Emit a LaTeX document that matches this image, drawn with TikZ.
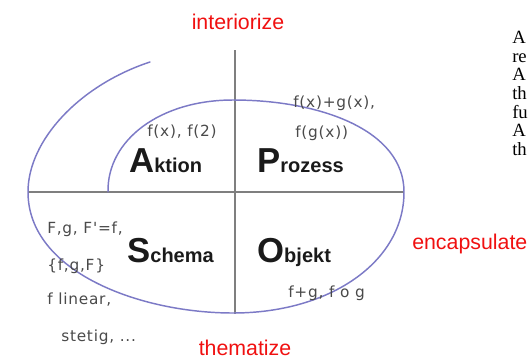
\documentclass[tikz,border=0pt]{standalone}
\usepackage{fontspec}
\setmainfont{Liberation Serif}
\newfontfamily\arialfont{Liberation Sans}
\newfontfamily\notefont[LetterSpace=5]{DejaVu Sans}
\usepackage{tikz}
\usetikzlibrary{positioning}
\definecolor{spiralBlue}{HTML}{7C7AC6}
\definecolor{axisGray}{HTML}{7F7F7F}
\definecolor{labelRed}{HTML}{F01010}
\definecolor{noteGray}{HTML}{4A4A4A}
\definecolor{stageBlack}{HTML}{1A1A1A}
\newcommand{\stageword}[2]{{\fontsize{26}{26}\selectfont #1}{\fontsize{15}{15}\selectfont #2}}
\tikzset{
  spiral/.style={draw=spiralBlue, line width=1.1pt, line cap=round},
  axis/.style={draw=axisGray, line width=1.1pt},
  redLabel/.style={text=labelRed, inner sep=0pt, font=\arialfont\fontsize{16}{16}\selectfont},
  stage/.style={text=stageBlack, inner sep=0pt, anchor=base west, font=\arialfont\bfseries},
  note/.style={text=noteGray, inner sep=0pt, anchor=west, font=\notefont\fontsize{11.5}{11.5}\selectfont}
}

\begin{document}
\begin{tikzpicture}[x=0.75pt, y=-0.75pt]
  \useasboundingbox (0,0) rectangle (529,362);

  % axes
  \coordinate (top) at (235,50);
  \coordinate (bottom) at (235,314);
  \coordinate (left) at (28,192);
  \coordinate (right) at (404,192);
  \draw[axis] (top) -- (bottom);
  \draw[axis] (left) -- (right);

  % spiral
  \draw[spiral] (150,62) .. controls (80,85) and (28,140) .. (28,192)
    .. controls (28,272) and (140,313) .. (233,313)
    .. controls (330,313) and (404,262) .. (404,192)
    .. controls (404,130) and (320,100) .. (233,100)
    .. controls (160,100) and (107,140) .. (108,192);

  % stages
  \node[stage] (aktion) at (129,172) {\stageword{A}{ktion}};
  \node[stage] (prozess) at (257,172) {\stageword{P}{rozess}};
  \node[stage] (schema) at (127,262) {\stageword{S}{chema}};
  \node[stage] (objekt) at (257,262) {\stageword{O}{bjekt}};

  % examples
  \node[note] (aktEx) at (147,132) {f(x), f(2)};
  \node[note] (proEx1) at (293,103) {f(x)+g(x),};
  \node[note] (proEx2) at (295,133) {f(g(x))};
  \node[note] (schEx1) at (47,229) {F,g, F'=f,};
  \node[note] (schEx2) at (47,266) {\{f,g,F\}};
  \node[note] (schEx3) at (47,300) {f linear,};
  \node[note] (schEx4) at (61,337) {stetig, ...};
  \node[note] (objEx) at (288,293) {f+g, f o g};

  % transitions
  \node[redLabel] (interiorize) at (238,22) {interiorize};
  \node[redLabel] (thematize) at (245,348) {thematize};
  \node[redLabel, anchor=west] (encapsulate) at (412,244) {encapsulate};

  % text beside
  \node[anchor=north west, inner sep=0pt, align=left, font=\fontsize{14}{14}\selectfont] (pageText) at (512,31)
    {A\\re\\A\\th\\fu\\A\\th};
\end{tikzpicture}
\end{document}
